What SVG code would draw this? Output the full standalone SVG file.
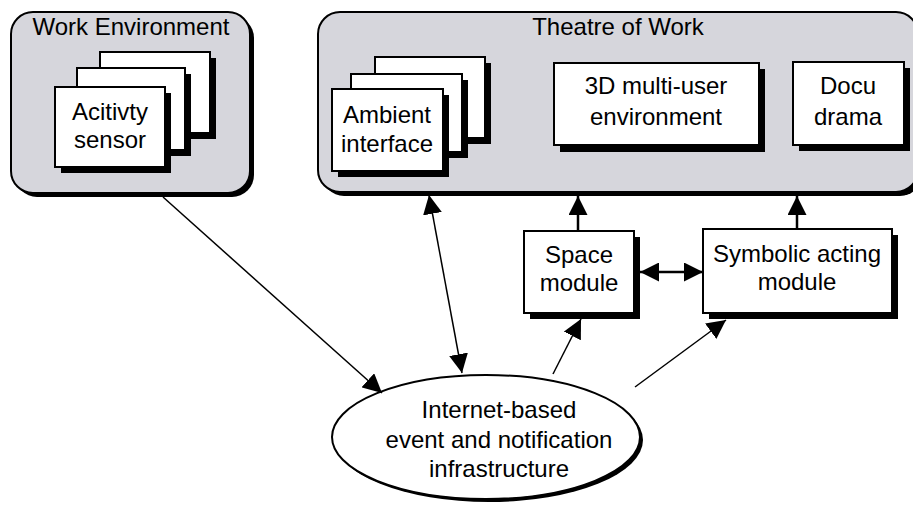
<svg xmlns="http://www.w3.org/2000/svg" width="913" height="510" viewBox="0 0 913 510">
<style>
text{font-family:"Liberation Sans",Arial,sans-serif;font-size:24px;fill:#000;text-anchor:middle}
.panel{fill:#d6d6dc;stroke:#000;stroke-width:2}
.pshadow{fill:#000}
.box{fill:#fff;stroke:#000;stroke-width:2}
.shadow{fill:#000}
.conn{stroke:#000;fill:none}
</style>
<defs>
<marker id="ah" viewBox="0 0 19 19" refX="19" refY="9.5" markerWidth="19" markerHeight="19" markerUnits="userSpaceOnUse" orient="auto-start-reverse">
<path d="M0,0 L19,9.5 L0,19 Z" fill="#000"/>
</marker>
</defs>

<g id="work-environment">
<rect class="pshadow" x="15" y="16" width="239" height="181" rx="22"/>
<rect class="panel" x="11" y="12" width="239" height="181" rx="22"/>
<text x="131" y="35">Work Environment</text>
</g>

<g id="theatre-of-work">
<rect class="pshadow" x="322" y="16" width="600" height="180" rx="22"/>
<rect class="panel" x="318" y="12" width="600" height="180" rx="22"/>
<text x="618" y="35">Theatre of Work</text>
</g>

<g id="activity-sensor">
<rect class="shadow" x="106" y="58" width="110" height="81"/>
<rect class="box" x="100" y="52" width="110" height="81"/>
<rect class="shadow" x="83" y="74" width="108" height="82"/>
<rect class="box" x="77" y="68" width="108" height="82"/>
<rect class="shadow" x="61" y="93" width="110" height="80"/>
<rect class="box" x="55" y="87" width="110" height="80"/>
<text x="110" y="120">Acitivty</text>
<text x="110" y="148">sensor</text>
</g>

<g id="ambient-interface">
<rect class="shadow" x="381" y="63" width="110" height="81"/>
<rect class="box" x="375" y="57" width="110" height="81"/>
<rect class="shadow" x="357" y="80" width="111" height="78"/>
<rect class="box" x="351" y="74" width="111" height="78"/>
<rect class="shadow" x="338" y="95" width="111" height="82"/>
<rect class="box" x="332" y="89" width="111" height="82"/>
<text x="387" y="123">Ambient</text>
<text x="387" y="152">interface</text>
</g>

<g id="multi-user-environment">
<rect class="shadow" x="560" y="69" width="205" height="83"/>
<rect class="box" x="554" y="63" width="205" height="82"/>
<text x="656" y="94">3D multi-user</text>
<text x="656" y="125">environment</text>
</g>

<g id="docu-drama">
<rect class="shadow" x="799" y="68" width="111" height="83"/>
<rect class="box" x="793" y="62" width="111" height="83"/>
<text x="848" y="94">Docu</text>
<text x="848" y="125">drama</text>
</g>

<g id="space-module">
<rect class="shadow" x="530" y="237" width="110" height="82"/>
<rect class="box" x="524" y="231" width="110" height="82"/>
<text x="579" y="263">Space</text>
<text x="579" y="291">module</text>
</g>

<g id="symbolic-acting-module">
<rect class="shadow" x="709" y="235" width="189" height="84"/>
<rect class="box" x="703" y="229" width="189" height="84"/>
<text x="797" y="262">Symbolic acting</text>
<text x="797" y="290">module</text>
</g>

<g id="event-infrastructure">
<ellipse cx="489" cy="440" rx="154" ry="62" fill="#000"/>
<ellipse cx="486" cy="437" rx="154" ry="62" fill="#fff" stroke="#000" stroke-width="2"/>
<text x="499" y="418">Internet-based</text>
<text x="499" y="448">event and notification</text>
<text x="499" y="477">infrastructure</text>
</g>

<g id="connectors">
<line class="conn" stroke-width="1.5" x1="163" y1="197" x2="382" y2="393" marker-end="url(#ah)"/>
<line class="conn" stroke-width="1.5" x1="429" y1="195" x2="462" y2="373" marker-start="url(#ah)" marker-end="url(#ah)"/>
<line class="conn" stroke-width="2.5" x1="578" y1="231" x2="578" y2="196" marker-end="url(#ah)"/>
<line class="conn" stroke-width="2.5" x1="797" y1="229" x2="797" y2="196" marker-end="url(#ah)"/>
<line class="conn" stroke-width="2.5" x1="640" y1="272" x2="703" y2="272" marker-start="url(#ah)" marker-end="url(#ah)"/>
<line class="conn" stroke-width="1.5" x1="553" y1="374" x2="581" y2="319" marker-end="url(#ah)"/>
<line class="conn" stroke-width="1.5" x1="635" y1="387" x2="726" y2="320" marker-end="url(#ah)"/>
</g>
</svg>
